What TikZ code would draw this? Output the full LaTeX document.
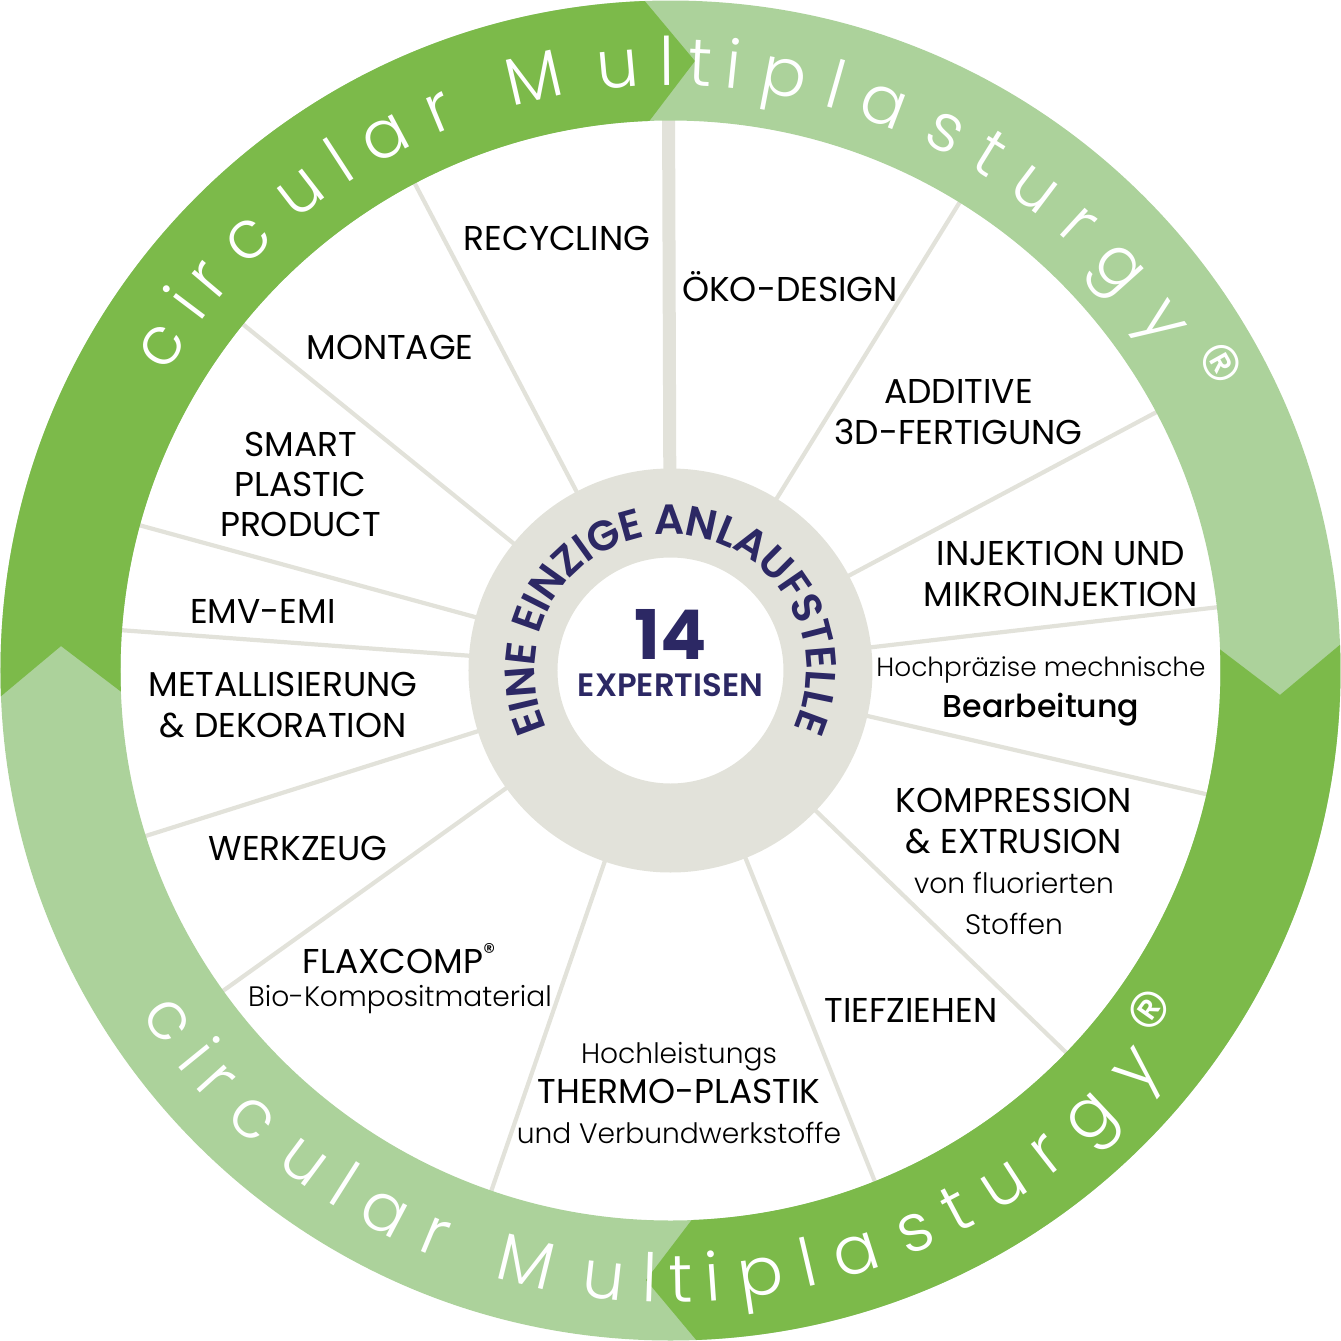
\documentclass[tikz,border=0pt]{standalone}
\usepackage{fontspec}
\setmainfont{Poppins}
\newfontfamily\lightfont{Poppins Light}
\newfontfamily\mediumfont{Poppins Medium}
\newfontfamily\semifont{Poppins SemiBold}
\usetikzlibrary{decorations.text}

\definecolor{darkgreen}{HTML}{7CBA4A}
\definecolor{lightgreen}{HTML}{ACD29B}
\definecolor{ringgray}{HTML}{E2E2DA}
\definecolor{navy}{HTML}{2C2864}

\newcommand{\thintext}[2][8]{{\lightfont\fontsize{#1}{11.5}\selectfont #2}}

\begin{document}
\begin{tikzpicture}[
	spoke/.style={draw=ringgray, line width=1.2pt},
	expert/.style={align=center, inner sep=0pt, font=\fontsize{9.8}{11.5}\selectfont},
	ringtext/.style={decorate, font=\lightfont\fontsize{19}{19}\selectfont,
		decoration={text effects along path, text={circular Multiplasturgy},
			text effects/.cd, fit text to path=true,
			characters={text=white, transform shape, anchor=base, inner sep=0pt}}},
	regmark/.style={text=white, inner sep=0pt, font=\lightfont\fontsize{25}{25}\selectfont}
]
	\useasboundingbox (-6.705,-6.705) rectangle (6.705,6.705);

	% spokes between the expertises
	\foreach \a in {58.3,28,6.6,-13,-44,-68.2,-109,215.6,197.5,175.8,164.7,141,117.7}
		\draw[spoke] (\a:1.8) -- (\a:5.6);
	\draw[spoke, line width=3.7pt] (90.2:1.8) -- (90.2:5.6);

	% inner ring
	\fill[ringgray, even odd rule] (0,0) circle[radius=2.02] (0,0) circle[radius=1.13];

	% outer ring with four arrows
	\fill[lightgreen, even odd rule] (0,0) circle[radius=6.7] (0,0) circle[radius=5.5];
	\foreach \r in {0,180}
		\fill[darkgreen, rotate=\r] (182.2:6.7) arc[start angle=182.2, end angle=92.2, radius=6.7]
			-- (87.7:6.1) -- (92.2:5.5) arc[start angle=92.2, end angle=182.2, radius=5.5]
			-- (177.7:6.1) -- cycle;

	\path[ringtext] (149.5:5.85) arc[start angle=149.5, end angle=33.5, radius=5.85];
	\path[ringtext] (213:6.32) arc[start angle=213, end angle=321, radius=6.32];
	\node[regmark, rotate=-60.8] (regtop) at (29.2:6.17) {®};
	\node[regmark, rotate=54.7] (regbottom) at (-35.3:6.0) {®};

	% centre
	\path[decorate, font=\semifont\fontsize{12}{12}\selectfont,
		decoration={text effects along path, text={EINE EINZIGE ANLAUFSTELLE},
			text effects/.cd, fit text to path=true,
			characters={text=navy, transform shape, anchor=base, inner sep=0pt}}]
		(205:1.36) arc[start angle=205, end angle=-25, radius=1.36];
	\node[text=navy, font=\bfseries\fontsize{19.5}{19.5}\selectfont] (num) at (0,0.36) {14};
	\node[text=navy, font=\semifont\fontsize{9.2}{9.2}\selectfont] (expertisen) at (0,-0.145) {EXPERTISEN};

	% expertises
	\node[expert] (recycling) at (-1.135,4.325) {RECYCLING};
	\node[expert] (oekodesign) at (1.195,3.84) {ÖKO-DESIGN};
	\node[expert] (montage) at (-2.805,3.235) {MONTAGE};
	\node[expert] (additive) at (2.88,2.585) {ADDITIVE\\3D-FERTIGUNG};
	\node[expert] (smart) at (-3.70,1.86) {SMART\\PLASTIC\\PRODUCT};
	\node[expert] (injektion) at (3.905,0.965) {INJEKTION UND\\MIKROINJEKTION};
	\node[expert] (emv) at (-4.075,0.595) {EMV-EMI};
	\node[expert] (bearbeitung) at (3.705,-0.21) {\thintext[7.5]{Hochpräzise mechnische}\\{\mediumfont\fontsize{9}{11.5}\selectfont Bearbeitung}};
	\node[expert] (metall) at (-3.875,-0.345) {METALLISIERUNG\\\& DEKORATION};
	\node[expert] (kompression) at (3.435,-1.91) {KOMPRESSION\\\& EXTRUSION\\\thintext{von fluorierten}\\\thintext{Stoffen}};
	\node[expert] (werkzeug) at (-3.725,-1.775) {WERKZEUG};
	\node[expert] (flaxcomp) at (-2.705,-3.08) {FLAXCOMP\textsuperscript{®}\\[-2pt]\thintext{Bio-Kompositmaterial}};
	\node[expert] (tiefziehen) at (2.405,-3.395) {TIEFZIEHEN};
	\node[expert] (thermo) at (0.085,-4.225) {\thintext{Hochleistungs}\\THERMO-PLASTIK\\\thintext{und Verbundwerkstoffe}};
\end{tikzpicture}
\end{document}
